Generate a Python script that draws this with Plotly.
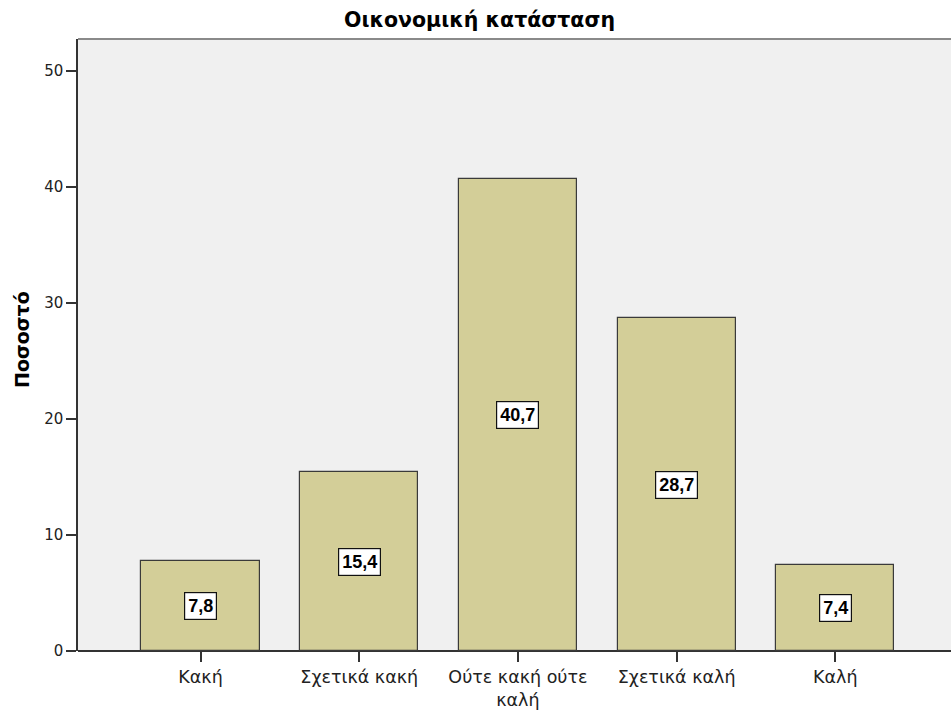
import plotly.graph_objects as go

# Data
categories = ["Κακή", "Σχετικά κακή", "Ούτε κακή ούτε<br>καλή", "Σχετικά καλή", "Καλή"]
percent = [7.8, 15.4, 40.7, 28.7, 7.4]
value_labels = ["7,8", "15,4", "40,7", "28,7", "7,4"]
y_ticks = [0, 10, 20, 30, 40, 50]

x_idx = list(range(len(categories)))

# Canvas and plot-area geometry (pixels)
W, H = 951, 711
L, R, T, B = 78, 0, 39, 60
pw, ph = W - L - R, H - T - B


def px_x(px):
    return (px - L) / pw


def px_y(py):
    return (H - B - py) / ph


fig = go.Figure()
fig.add_trace(go.Bar(
    x=x_idx,
    y=percent,
    width=0.745,
    marker=dict(color="#D3CE98", line=dict(color="#3a3a3a", width=1.2)),
    hoverinfo="skip",
))

# Value labels in white boxes, centred in each bar
for i, (v, t) in enumerate(zip(percent, value_labels)):
    fig.add_annotation(
        x=i, y=v / 2, xref="x", yref="y", text=f"<b>{t}</b>",
        showarrow=False, bgcolor="white", bordercolor="#111111",
        borderwidth=1.2, borderpad=3,
        font=dict(family="Liberation Sans", size=18, color="black"),
    )

# Chart title
fig.add_annotation(
    x=px_x(479), y=px_y(20), xref="paper", yref="paper",
    xanchor="center", yanchor="middle",
    text="<b>Οικονομική κατάσταση</b>", showarrow=False,
    font=dict(family="DejaVu Sans", size=20.5, color="black"),
)
# Y-axis title
fig.add_annotation(
    x=px_x(22), y=px_y(340), xref="paper", yref="paper",
    xanchor="center", yanchor="middle",
    text="<b>Ποσοστό</b>", textangle=-90, showarrow=False,
    font=dict(family="DejaVu Sans", size=19, color="black"),
)

# Gray line along the top of the plot area
fig.add_shape(type="line", xref="paper", yref="paper", x0=0, x1=1, y0=1, y1=1,
              line=dict(color="#8a8a8a", width=2))

fig.update_layout(
    width=W, height=H,
    margin=dict(l=L, r=R, t=T, b=B),
    paper_bgcolor="white",
    plot_bgcolor="#F0F0F0",
    showlegend=False,
    bargap=0,
    xaxis=dict(
        range=[-0.772, 4.729],
        tickvals=x_idx, ticktext=categories,
        ticks="outside", ticklen=10, tickwidth=1.5, tickcolor="#333333",
        showline=False, showgrid=False, zeroline=False,
        tickfont=dict(family="DejaVu Sans", size=17.5, color="#222222"),
    ),
    yaxis=dict(
        range=[0, 52.76],
        tickvals=y_ticks,
        ticks="outside", ticklen=10, tickwidth=1.5, tickcolor="#333333",
        showline=True, linecolor="#333333", linewidth=1.5,
        showgrid=False, zeroline=True, zerolinecolor="#333333", zerolinewidth=1.5,
        tickfont=dict(family="DejaVu Sans", size=15, color="#222222"),
    ),
)

fig.write_html("out.html")
